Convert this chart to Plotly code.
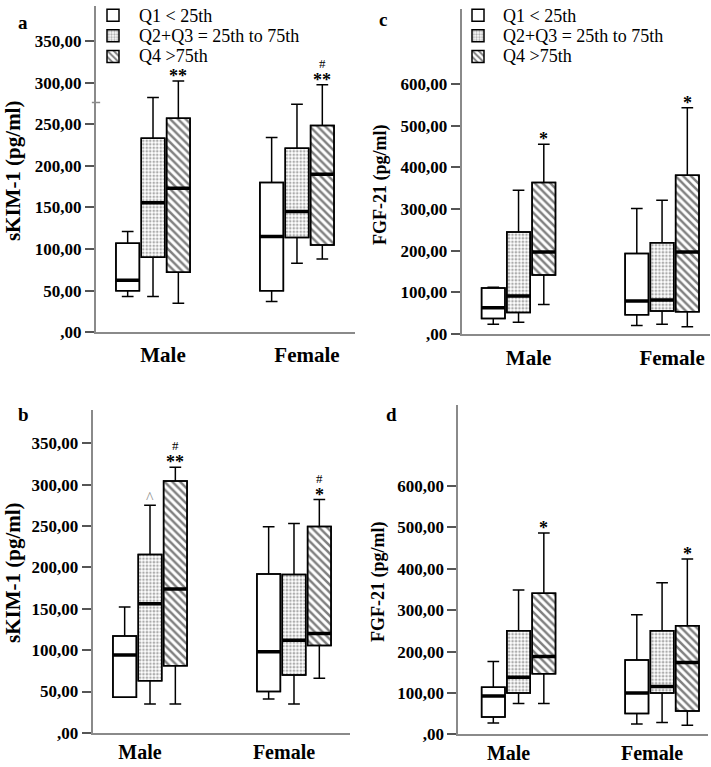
import plotly.graph_objects as go

categories = ["Male", "Female"]
group_names = ["Q1 &lt; 25th", "Q2+Q3 = 25th to 75th", "Q4 &gt;75th"]

# Panel a: sKIM-1, values per group [Q1, Q2+Q3, Q4] x [Male, Female]
a_lower = [[43, 37], [43, 83], [35, 88]]
a_q1 = [[50, 50], [90, 114], [72, 105]]
a_median = [[62.5, 115], [155.5, 145], [173, 190]]
a_q3 = [[107, 180], [233, 221], [257, 248.5]]
a_upper = [[121, 234], [282, 274], [302, 297.5]]

# Panel b: sKIM-1
b_lower = [[43, 41], [35, 35], [35, 66]]
b_q1 = [[43, 50], [63, 70], [81, 105.5]]
b_median = [[94, 98], [156, 112], [174, 120]]
b_q3 = [[117, 192], [215.5, 191.5], [304.5, 249.5]]
b_upper = [[152, 249], [275, 253], [321, 282]]

# Panel c: FGF-21
c_lower = [[23, 20], [27.5, 23], [70.5, 17]]
c_q1 = [[37, 46], [51, 55], [141.5, 53]]
c_median = [[62.5, 79], [91, 81], [196.5, 196.5]]
c_q3 = [[110, 193], [245, 219], [364, 381]]
c_upper = [[112, 301], [345, 321], [456, 543.5]]

# Panel d: FGF-21
d_lower = [[28, 25], [74.5, 29], [74.5, 22]]
d_q1 = [[42, 50.5], [100, 100], [146.5, 56.7]]
d_median = [[93, 100], [138, 116], [188, 174]]
d_q3 = [[114, 180], [250.5, 250.5], [341, 262.5]]
d_upper = [[176, 289], [349, 366.6], [486.7, 424]]

# significance marks per group x category
a_stars = [["", ""], ["", ""], ["**", "**"]]
a_hash = [["", ""], ["", ""], ["", "#"]]
b_stars = [["", ""], ["^", ""], ["**", "*"]]
b_hash = [["", ""], ["", ""], ["#", "#"]]
c_stars = [["", ""], ["", ""], ["*", "*"]]
c_hash = [["", ""], ["", ""], ["", ""]]
d_stars = [["", ""], ["", ""], ["*", "*"]]
d_hash = [["", ""], ["", ""], ["", ""]]

skim_ticks = [0, 50, 100, 150, 200, 250, 300, 350]
skim_ticktext = [",00", "50,00", "100,00", "150,00", "200,00", "250,00", "300,00", "350,00"]
fgf_ticks = [0, 100, 200, 300, 400, 500, 600]
fgf_ticktext = [",00", "100,00", "200,00", "300,00", "400,00", "500,00", "600,00"]

W, H = 711, 767
SERIF = "Liberation Serif"
BOXGAP = 0.472
GROUPGAP = 0.074
SLOT = (1 - BOXGAP) / 3

panels = [
    dict(key="a", xa="x", ya="y", lower=a_lower, q1=a_q1, med=a_median, q3=a_q3, up=a_upper,
         stars=a_stars, hashes=a_hash, legend="legend"),
    dict(key="c", xa="x2", ya="y2", lower=c_lower, q1=c_q1, med=c_median, q3=c_q3, up=c_upper,
         stars=c_stars, hashes=c_hash, legend="legend2"),
    dict(key="b", xa="x3", ya="y3", lower=b_lower, q1=b_q1, med=b_median, q3=b_q3, up=b_upper,
         stars=b_stars, hashes=b_hash, legend=None),
    dict(key="d", xa="x4", ya="y4", lower=d_lower, q1=d_q1, med=d_median, q3=d_q3, up=d_upper,
         stars=d_stars, hashes=d_hash, legend=None),
]

patterns = [
    dict(shape=""),
    dict(shape=".", fgcolor="#5a5a5a", bgcolor="white", size=3.5, solidity=0.45),
    dict(shape="\\", fgcolor="#000000", bgcolor="white", size=5.5, solidity=0.45),
]

fig = go.Figure()
annotations = []

for p in panels:
    for g in range(3):
        heights = [p["q3"][g][c] - p["q1"][g][c] for c in range(2)]
        bar_kw = dict(
            x=categories, y=heights, base=p["q1"][g], name="",
            marker=dict(color="white", line=dict(color="black", width=1.5), pattern=patterns[g]),
            offsetgroup=str(g), alignmentgroup=p["key"],
            xaxis=p["xa"], yaxis=p["ya"], hoverinfo="skip",
            showlegend=p["legend"] is not None,
        )
        if p["legend"] is not None:
            bar_kw["legend"] = p["legend"]
        fig.add_trace(go.Bar(**bar_kw))
        fig.add_trace(go.Box(
            x=categories, q1=p["q1"][g], median=p["med"][g], q3=p["q3"][g],
            lowerfence=p["lower"][g], upperfence=p["up"][g],
            fillcolor="rgba(0,0,0,0)", line=dict(color="black", width=1.5),
            whiskerwidth=0.5, offsetgroup=str(g), alignmentgroup=p["key"],
            xaxis=p["xa"], yaxis=p["ya"], showlegend=False, hoverinfo="skip",
        ))
        fig.add_trace(go.Box(
            x=categories, q1=p["med"][g], median=p["med"][g], q3=p["med"][g],
            lowerfence=p["med"][g], upperfence=p["med"][g],
            fillcolor="rgba(0,0,0,0)", line=dict(color="black", width=3.5),
            whiskerwidth=0, offsetgroup=str(g), alignmentgroup=p["key"],
            xaxis=p["xa"], yaxis=p["ya"], showlegend=False, hoverinfo="skip",
        ))
        for c in range(2):
            xpos = c + (g - 1) * SLOT
            s = p["stars"][g][c]
            h = p["hashes"][g][c]
            if s:
                caret = s == "^"
                annotations.append(dict(
                    x=xpos, y=p["up"][g][c], xref=p["xa"], yref=p["ya"],
                    text=s, showarrow=False, yanchor="bottom",
                    yshift=-3 if caret else -7,
                    font=dict(family=SERIF, size=16 if caret else 18,
                              color="#909090" if caret else "black",
                              weight="normal" if caret else "bold"),
                ))
            if h:
                annotations.append(dict(
                    x=xpos, y=p["up"][g][c], xref=p["xa"], yref=p["ya"],
                    text=h, showarrow=False, yanchor="bottom", yshift=12,
                    font=dict(family=SERIF, size=13, color="black"),
                ))


def px_x(v):
    return v / W


def px_y(v):
    return (H - v) / H


tickfont = dict(family=SERIF, size=17, color="black", weight="bold")
axline = "#8a8a8a"


def xaxis(dom, rng, shift, anchor, standoff, size):
    return dict(domain=dom, range=rng, type="category", categoryorder="array",
                categoryarray=categories, showline=True, linecolor=axline, linewidth=2,
                ticks="", showgrid=False, zeroline=False,
                tickfont=dict(family=SERIF, size=size, color="black", weight="bold"),
                ticklabelstandoff=standoff, ticklabelshift=shift, fixedrange=True,
                automargin=False, anchor=anchor)


def yaxis(dom, rng, vals, texts, anchor):
    return dict(domain=dom, range=rng, tickvals=vals, ticktext=texts, showline=True,
                linecolor=axline, linewidth=2, ticks="outside", ticklen=9, tickwidth=1.5,
                tickcolor="#555555", showgrid=False, zeroline=False, tickfont=tickfont,
                anchor=anchor, fixedrange=True, automargin=False)


legend_common = dict(font=dict(family=SERIF, size=13.5, color="black"), bgcolor="rgba(0,0,0,0)",
                     xanchor="left", yanchor="top", traceorder="normal", tracegroupgap=0,
                     itemclick=False, itemdoubleclick=False)

# legend labels (text next to the legend swatches)
legend_rows = [11.7, 32.2, 52.7]
for x0 in (137, 501):
    for g in range(3):
        annotations.append(dict(x=px_x(x0), y=px_y(legend_rows[g]), xref="paper", yref="paper",
                                text=group_names[g], showarrow=False, xanchor="left",
                                yanchor="middle",
                                font=dict(family=SERIF, size=18, color="black")))

titles = [
    ("sKIM-1 (pg/ml)", 13, 168, 21),
    ("sKIM-1 (pg/ml)", 13, 572, 21),
    ("FGF-21 (pg/ml)", 380, 182, 18),
    ("FGF-21 (pg/ml)", 379, 581, 18),
]
for t, x, y, s in titles:
    annotations.append(dict(x=px_x(x), y=px_y(y), xref="paper", yref="paper", text=t,
                            textangle=-90, showarrow=False, xanchor="center", yanchor="middle",
                            font=dict(family=SERIF, size=s, color="black", weight="bold")))

letters = [("a", 23, 19), ("c", 383, 16), ("b", 24, 413), ("d", 391, 413)]
for t, x, y in letters:
    annotations.append(dict(x=px_x(x), y=px_y(y), xref="paper", yref="paper", text=t,
                            showarrow=False, xanchor="center", yanchor="middle",
                            font=dict(family=SERIF, size=19, color="black", weight="bold")))

shapes = [dict(type="line", xref="x domain", yref="y", x0=-0.016, x1=0.016, y0=276, y1=276,
               line=dict(color=axline, width=1.5))]

fig.update_layout(
    width=W, height=H, margin=dict(l=0, r=0, t=0, b=0),
    paper_bgcolor="white", plot_bgcolor="white",
    barmode="group", bargap=BOXGAP, bargroupgap=GROUPGAP,
    boxmode="group", boxgap=BOXGAP, boxgroupgap=GROUPGAP,
    xaxis=xaxis([px_x(96), px_x(355)], [-0.396, 1.403], 10, "y", 3, 21),
    yaxis=yaxis([px_y(330), px_y(2)], [0, 392], skim_ticks, skim_ticktext, "x"),
    xaxis2=xaxis([px_x(461.7), px_x(710)], [-0.396, 1.334], 10, "y2", 4, 21),
    yaxis2=yaxis([px_y(331.5), px_y(5)], [0, 781], fgf_ticks, fgf_ticktext, "x2"),
    xaxis3=xaxis([px_x(92.7), px_x(350)], [-0.398, 1.389], -10, "y3", 0, 20),
    yaxis3=yaxis([px_y(732.7), px_y(408)], [0, 390.4], skim_ticks, skim_ticktext, "x3"),
    xaxis4=xaxis([px_x(458.3), px_x(708)], [-0.42, 1.32], -10, "y4", 0, 20),
    yaxis4=yaxis([px_y(734.3), px_y(403)], [0, 795.8], fgf_ticks, fgf_ticktext, "x4"),
    legend=dict(x=px_x(93), y=1.0052, **legend_common),
    legend2=dict(x=px_x(458), y=1.0052, **legend_common),
    annotations=annotations, shapes=shapes,
    font=dict(family=SERIF),
)

fig.write_html("out.html", config={"displayModeBar": False},
               post_script="document.body.style.margin='0px';")
